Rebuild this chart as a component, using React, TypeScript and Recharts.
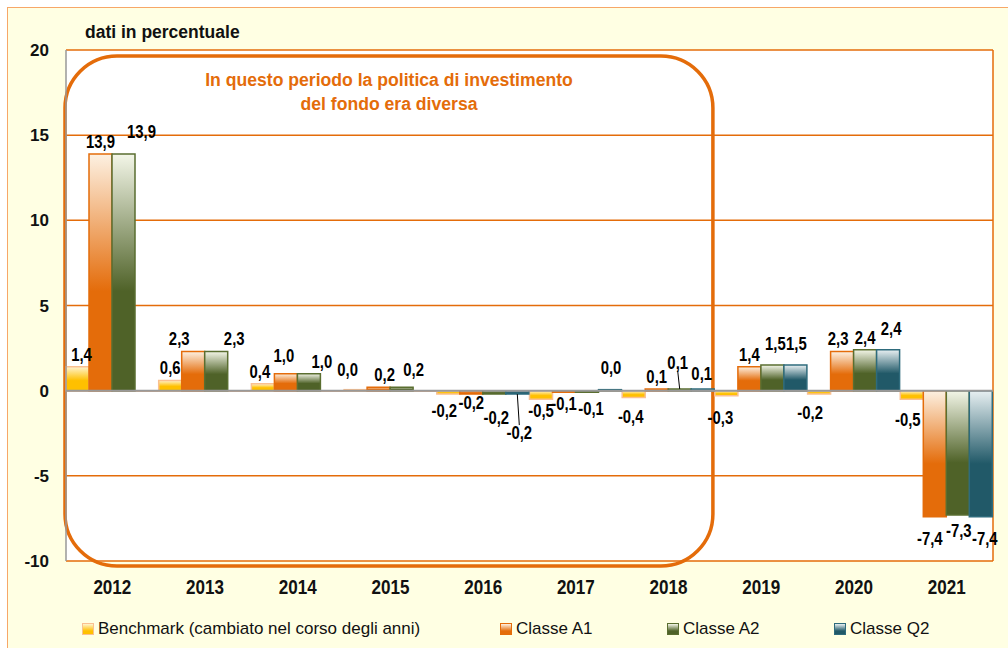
import {
  Bar,
  BarChart,
  CartesianGrid,
  LabelList,
  Legend,
  ReferenceArea,
  ReferenceLine,
  XAxis,
  YAxis,
} from "recharts";

const years = ["2012", "2013", "2014", "2015", "2016", "2017", "2018", "2019", "2020", "2021"];
const benchmark = [1.4, 0.6, 0.4, 0.0, -0.2, -0.5, -0.4, -0.3, -0.2, -0.5];
const classeA1 = [13.9, 2.3, 1.0, 0.2, -0.2, -0.1, 0.1, 1.4, 2.3, -7.4];
const classeA2 = [13.9, 2.3, 1.0, 0.2, -0.2, -0.1, 0.1, 1.5, 2.4, -7.3];
const classeQ2 = [null, null, null, null, -0.2, 0.0, 0.1, 1.5, 2.4, -7.4];
const yTicks = [-10, -5, 0, 5, 10, 15, 20];

const data = years.map((year, i) => ({
  year,
  bench: benchmark[i],
  a1: classeA1[i],
  a2: classeA2[i],
  q2: classeQ2[i],
}));

const FONT = "'Liberation Sans', Arial, sans-serif";
const ORANGE = "#E46C0A";

const series = [
  { key: "bench", name: "Benchmark (cambiato nel corso degli anni)", light: "#FFF4D0", dark: "#FFC000", stroke: "#FAC090", legendX: 82 },
  { key: "a1", name: "Classe A1", light: "#FDF1E2", dark: "#E46C0A", stroke: "#E46C0A", legendX: 500 },
  { key: "a2", name: "Classe A2", light: "#F3F6E8", dark: "#4F6228", stroke: "#5A6E30", legendX: 667 },
  { key: "q2", name: "Classe Q2", light: "#E8F0F2", dark: "#215968", stroke: "#2E6B7C", legendX: 834 },
];

// hand-placed label nudges, as in the original spreadsheet chart
const labelNudge: Record<string, [number, number, boolean?]> = {
  "bench-2012": [4, 0],
  "a2-2012": [18, -10],
  "a1-2013": [-14, 0],
  "a2-2013": [18, 0],
  "bench-2014": [-3, 0],
  "a1-2014": [-2, -6],
  "a2-2014": [13, 0],
  "bench-2015": [-8, -8],
  "a1-2015": [6, 0],
  "a2-2015": [12, -5],
  "bench-2016": [-4, 5],
  "a1-2016": [0, -3],
  "a2-2016": [2, 12],
  "q2-2016": [2, 27, true],
  "a2-2017": [4, 5],
  "q2-2017": [1, -10],
  "bench-2018": [-3, 8],
  "a2-2018": [-2, -14, true],
  "q2-2018": [-1, -3],
  "bench-2019": [-6, 10],
  "a2-2019": [3, -9],
  "q2-2019": [1, -9],
  "bench-2020": [-9, 7],
  "a1-2020": [-4, 0],
  "q2-2020": [3, -9],
  "bench-2021": [-4, 9],
  "a1-2021": [-5, 10],
  "a2-2021": [1, 4],
  "q2-2021": [4, 10],
};

const fmt = (v: number) => v.toFixed(1).replace(".", ",");

function makeLabel(key: string) {
  return function ValueLabel(props: any) {
    const { x, y, width, height, value } = props;
    if (value === null || value === undefined || value === "") return null;
    const [year, raw] = String(value).split("|");
    const v = Number(raw);
    const [dx, dy, leader] = labelNudge[`${key}-${year}`] || [0, 0, false];
    const h = height || 0;
    const top = Math.min(y, y + h);
    const bottom = Math.max(y, y + h);
    const cx = x + width / 2;
    const cy = (v >= 0 ? top - 12 : bottom + 12) + dy;
    return (
      <g>
        {leader && (
          <line
            x1={cx}
            y1={v >= 0 ? top : bottom}
            x2={cx + dx}
            y2={v >= 0 ? cy + 8 : cy - 8}
            stroke="#000"
            strokeWidth={1}
          />
        )}
        <text
          transform={`translate(${cx + dx},${cy + 6}) scale(0.85,1)`}
          textAnchor="middle"
          fontFamily={FONT}
          fontWeight="bold"
          fontSize={17.5}
          fill="#000"
        >
          {fmt(v)}
        </text>
      </g>
    );
  };
}

function YearTick(props: any) {
  const { x, y, payload } = props;
  return (
    <text
      transform={`translate(${x},${y + 33}) scale(0.875,1)`}
      textAnchor="middle"
      fontFamily={FONT}
      fontWeight="bold"
      fontSize={19.5}
      fill="#111"
    >
      {payload.value}
    </text>
  );
}

function PeriodBox(props: any) {
  const { x, y, width, height } = props;
  return (
    <g>
      <rect
        x={x - 1}
        y={y + 6}
        width={width - 1}
        height={height - 1}
        rx={52}
        ry={52}
        fill="none"
        stroke={ORANGE}
        strokeWidth={3.5}
      />
      <text x={389} y={86} textAnchor="middle" fontFamily={FONT} fontWeight="bold" fontSize={17.6} fill={ORANGE}>
        In questo periodo la politica di investimento
      </text>
      <text x={389} y={110} textAnchor="middle" fontFamily={FONT} fontWeight="bold" fontSize={17.6} fill={ORANGE}>
        del fondo era diversa
      </text>
    </g>
  );
}

function LegendContent() {
  return (
    <div style={{ position: "relative", width: 1008, height: 47, fontFamily: FONT, fontSize: 17, color: "#111" }}>
      {series.map((s) => (
        <div
          key={s.key}
          style={{
            position: "absolute",
            left: s.legendX,
            top: 18,
            display: "flex",
            alignItems: "center",
            whiteSpace: "nowrap",
          }}
        >
          <span
            style={{
              display: "inline-block",
              width: 10,
              height: 10,
              marginRight: 4,
              border: `1px solid ${s.stroke}`,
              background: `linear-gradient(${s.light}, ${s.dark} 70%)`,
            }}
          />
          <span>{s.name}</span>
        </div>
      ))}
    </div>
  );
}

export default function App() {
  return (
    <div style={{ position: "absolute", left: 0, top: 0, width: 1008, height: 648, background: "#fff", overflow: "hidden" }}>
      <div
        style={{
          position: "absolute",
          left: 7,
          top: 7,
          width: 1020,
          height: 660,
          background: "#FFFFE3",
          border: "1.5px solid #F7A768",
        }}
      />
      <div
        style={{
          position: "absolute",
          left: 85,
          top: 22,
          fontFamily: FONT,
          fontWeight: "bold",
          fontSize: 17.5,
          color: "#111",
        }}
      >
        dati in percentuale
      </div>
      <div style={{ position: "absolute", left: 0, top: 0 }}>
        <BarChart
          width={1008}
          height={648}
          data={data}
          margin={{ top: 50, right: 15, left: 0, bottom: 0 }}
          barCategoryGap={0}
          barGap={0}
        >
          <defs>
            {series.map((s) => (
              <linearGradient key={s.key} id={`grad-${s.key}`} x1="0" y1="0" x2="0" y2="1">
                <stop offset="0%" stopColor={s.light} />
                <stop offset="58%" stopColor={s.dark} />
                <stop offset="100%" stopColor={s.dark} />
              </linearGradient>
            ))}
          </defs>
          <CartesianGrid
            fill="#fff"
            stroke={ORANGE}
            strokeWidth={1.5}
            vertical
            verticalCoordinatesGenerator={({ offset }: any) => [offset.left + offset.width]}
          />
          <XAxis
            dataKey="year"
            axisLine={false}
            tickLine={false}
            height={40}
            tickSize={0}
            tickMargin={0}
            tick={YearTick}
          />
          <YAxis
            domain={[-10, 20]}
            ticks={yTicks}
            width={66}
            axisLine={{ stroke: "#999", strokeWidth: 1.5 }}
            tickLine={false}
            tickSize={0}
            tickMargin={17}
            tick={{ fontFamily: FONT, fontWeight: "bold", fontSize: 17, fill: "#111" }}
          />
          <ReferenceLine y={0} stroke="#999" strokeWidth={2} />
          {series.map((s) => (
            <Bar
              key={s.key}
              dataKey={s.key}
              name={s.name}
              fill={`url(#grad-${s.key})`}
              stroke={s.stroke}
              strokeWidth={1.5}
              minPointSize={1}
              isAnimationActive={false}
            >
              <LabelList
                dataKey={(row: any) => (row[s.key] === null ? "" : `${row.year}|${row[s.key]}`)}
                content={makeLabel(s.key)}
              />
            </Bar>
          ))}
          <ReferenceArea x1="2012" x2="2018" y1={-10} y2={20} ifOverflow="visible" shape={PeriodBox} />
          <Legend
            verticalAlign="bottom"
            height={47}
            wrapperStyle={{ left: 0, width: 1008 }}
            content={LegendContent}
          />
        </BarChart>
      </div>
    </div>
  );
}
